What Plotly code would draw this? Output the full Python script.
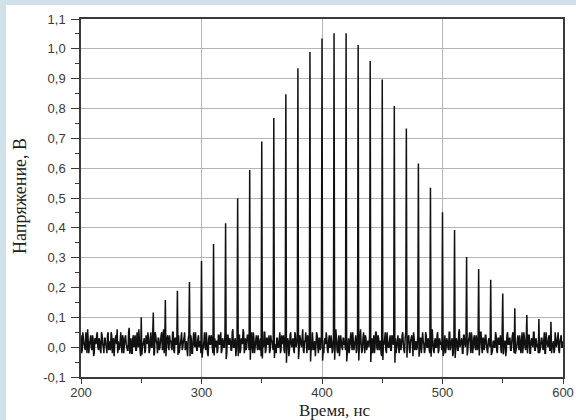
import plotly.graph_objects as go

# ---- data ----
t_start = 200
t_end = 600

# baseline noise, hundredths of a volt, samples at whole ns (200..600)
noise_cV = [
    4, -1, 3, 0, 5, -2, 2, 1, 4, -1, 3, -2, 2, 4, 0, 3, -1, 5, 1, -2,
    3, 0, 4, -1, 2, 5, -2, 3, 1, 4, -1, 2, 0, 5, -2, 3, 1, 4, 0, -1,
    5, 1, -2, 3, 0, 4, -1, 2, 6, -1, 3, 0, 2, -2, 4, 1, 3, -1, 5, 0,
    2, -2, 4, 1, 3, -1, 2, 5, 0, -2, 3, 1, 4, -1, 2, 0, 5, -1, 3, 1,
    -2, 4, 0, 3, -1, 2, 5, 1, -1, 3, 0, 4, -2, 2, 1, 5, -1, 3, 0, 2,
    4, -1, 2, 0, 5, -2, 3, 1, 4, 0, -1, 3, 2, -2, 4, 1, 5, -1, 2, 0,
    3, -2, 4, 1, 2, -1, 6, 0, 3, -1, 2, 4, -2, 3, 1, 5, 0, -1, 4, 2,
    -1, 3, 0, 5, -2, 2, 1, 4, -1, 3, 0, 2, 5, -2, 3, 1, 4, -1, 2, 0,
    4, 1, -2, 3, 0, 5, -1, 2, 4, -2, 3, 1, 2, -1, 5, 0, 3, -2, 4, 1,
    2, -1, 3, 0, 6, -2, 2, 1, 4, -1, 3, 0, 5, -1, 2, 1, 4, -2, 3, 0,
    5, -1, 2, 1, 3, -2, 4, 0, 2, -1, 5, 1, 3, -2, 4, 0, 2, -1, 3, 1,
    4, -2, 3, 0, 5, -1, 2, 1, 4, -1, 2, 0, 6, -2, 3, 1, 4, -1, 2, 0,
    3, 1, -2, 4, 0, 5, -1, 3, 2, -2, 4, 1, 3, -1, 5, 0, 2, -1, 4, 1,
    -1, 3, 0, 4, -2, 2, 1, 5, -1, 3, 0, 2, 4, -2, 3, 1, 5, -1, 2, 0,
    4, -1, 3, 1, 2, -2, 5, 0, 3, -1, 4, 1, 2, -2, 3, 0, 5, -1, 2, 1,
    3, -2, 4, 0, 2, -1, 5, 1, 3, -2, 4, 0, 2, -1, 6, 1, 3, -2, 4, 0,
    2, -1, 3, 1, 5, -2, 3, 0, 4, -1, 2, 1, 5, -2, 3, 0, 4, -1, 2, 1,
    4, -2, 2, 0, 5, -1, 3, 1, 4, -2, 3, 0, 2, -1, 5, 1, 3, -1, 4, 0,
    3, -1, 2, 1, 4, -2, 5, 0, 3, -1, 2, 1, 4, -2, 3, 0, 5, -1, 2, 1,
    4, -1, 3, 0, 2, -2, 5, 1, 3, -1, 4, 0, 2, -1, 3, 1, 5, -2, 3, 0,
    2,
]

# baseline noise, hundredths of a volt, samples at half ns (200.5..599.5)
noise_half_cV = [
    -2, 5, 1, -1, 3, 6, -2, 2, 0, 4, -3, 3, 1, 5, -1, 2, -2, 4, 0, 3,
    1, -2, 5, 0, -1, 4, 2, -3, 3, 1, 5, -1, 2, 0, 4, -2, 3, 1, -1, 5,
    0, 3, -2, 4, 1, -1, 5, 0, 2, -3, 4, 1, 3, -1, 2, 5, -2, 3, 0, 4,
    -1, 5, 2, -2, 3, 0, 4, -1, 6, 1, -2, 3, 0, 4, 2, -1, 5, -2, 3, 1,
    4, -2, 1, 5, 0, 3, -1, 2, -3, 4, 1, 3, -2, 5, 0, 2, -1, 4, 1, -2,
    3, 0, 5, -1, 2, -3, 4, 1, 3, -2, 5, 0, 2, -1, 4, 1, -2, 3, 0, 5,
    -2, 4, 1, 3, -1, 5, 0, 2, -3, 3, 1, 4, -1, 2, 6, -2, 3, 0, 4, -1,
    2, 5, -2, 3, 0, 4, -1, 2, 1, -3, 4, 0, 5, -1, 3, 1, -2, 4, 2, -1,
    5, -1, 3, 0, 2, -2, 4, 1, -1, 5, 0, 3, -3, 4, 1, 2, -1, 5, 0, 3,
    -2, 4, 1, 3, -1, 2, 5, -2, 3, 0, 4, -1, 2, 1, -3, 5, 0, 3, -1, 4,
    1, -2, 3, 5, -1, 2, 0, 4, -2, 3, 1, 6, -1, 2, -3, 4, 0, 3, 1, -1,
    4, 0, -2, 3, 1, 5, -1, 2, -2, 4, 0, 3, 1, -1, 5, -2, 3, 0, 2, 4,
    -1, 3, 1, -2, 5, 0, 4, -1, 2, -3, 3, 1, 5, -2, 2, 0, 4, -1, 3, 1,
    5, -2, 2, 0, 3, -1, 4, 1, -2, 5, 0, 3, -1, 2, 4, -3, 3, 1, -1, 4,
    0, 3, -2, 5, 1, -1, 4, 0, 2, -2, 3, 6, -1, 2, 0, 4, -2, 3, 1, -1,
    4, 1, -2, 3, 0, 5, -1, 2, -3, 4, 1, 3, -1, 5, 0, 2, -2, 4, 1, 3,
    -1, 2, 5, -2, 3, 0, 4, -1, 2, 1, -3, 5, 0, 3, -1, 4, 1, -2, 3, 0,
    5, -1, 2, 0, 4, -2, 3, 1, -1, 5, 0, 2, -3, 4, 1, 3, -1, 2, 5, -2,
    3, 0, 4, -1, 2, 1, -2, 5, 0, 3, -1, 4, -2, 2, 1, 5, -1, 3, 0, -2,
    4, 1, 3, -1, 5, -2, 2, 0, 4, -1, 3, 1, -2, 5, 0, 3, -1, 2, 4, 0,
]

pulse_times = [230, 240, 250, 260, 270, 280, 290, 300, 310, 320, 330, 340,
               350, 360, 370, 380, 390, 400, 410, 420, 430, 440, 450, 460,
               470, 480, 490, 500, 510, 520, 530, 540, 550, 560, 570, 580, 590]
pulse_peaks = [0.060, 0.065, 0.100, 0.116, 0.158, 0.189, 0.218, 0.289, 0.346,
               0.415, 0.499, 0.594, 0.689, 0.768, 0.848, 0.935, 0.989, 1.035,
               1.052, 1.052, 1.013, 0.959, 0.897, 0.808, 0.733, 0.616, 0.534,
               0.452, 0.393, 0.302, 0.262, 0.226, 0.180, 0.130, 0.108, 0.094,
               0.085]
pulse_dips = [-0.020, -0.022, -0.025, -0.028, -0.030, -0.026, -0.030, -0.035,
              -0.028, -0.040, -0.030, -0.042, -0.038, -0.036, -0.052, -0.040,
              -0.048, -0.045, -0.042, -0.048, -0.045, -0.050, -0.043, -0.052,
              -0.035, -0.032, -0.032, -0.030, -0.036, -0.028, -0.028, -0.026,
              -0.024, -0.022, -0.020, -0.020, -0.020]

y_tick_vals = [-0.1, 0.0, 0.1, 0.2, 0.3, 0.4, 0.5, 0.6, 0.7, 0.8, 0.9, 1.0, 1.1]
y_tick_text = ["-0,1", "0,0", "0,1", "0,2", "0,3", "0,4", "0,5", "0,6",
               "0,7", "0,8", "0,9", "1,0", "1,1"]
x_tick_vals = [200, 300, 400, 500, 600]
x_tick_text = ["200", "300", "400", "500", "600"]

x_title = "Время, нс"
y_title = "Напряжение, В"

# ---- build signal (interleave whole-ns and half-ns samples) ----
times, volts = [], []
for k, v in enumerate(noise_cV):
    times.append(t_start + k)
    volts.append(v / 100.0)
    if k < len(noise_half_cV):
        times.append(t_start + k + 0.5)
        volts.append(noise_half_cV[k] / 100.0)
for tp, pk, dp in zip(pulse_times, pulse_peaks, pulse_dips):
    i = times.index(tp)
    volts[i] = pk
    volts[i + 1] = dp

fig = go.Figure()
fig.add_trace(go.Scatter(x=times, y=volts, mode="lines",
                         line=dict(color="#111111", width=1.5, simplify=False),
                         hoverinfo="skip", showlegend=False))

W, H = 576, 420
ml, mr, mt, mb = 81, 13, 19, 43
pw, ph = W - ml - mr, H - mt - mb

blue = "#d0e1ea"
fig.add_shape(type="rect", xref="paper", yref="paper",
              x0=-ml / pw, x1=(6 - ml) / pw, y0=-mb / ph, y1=1 + mt / ph,
              fillcolor=blue, line_width=0, layer="below")
fig.add_shape(type="rect", xref="paper", yref="paper",
              x0=-ml / pw, x1=1 + mr / pw, y0=1 + (mt - 5) / ph, y1=1 + mt / ph,
              fillcolor=blue, line_width=0, layer="below")

axis_line = "#3a3a3a"
grid = "#b4b4b4"
tick_font = dict(family="Liberation Sans, Arial, sans-serif", size=13, color="#3a3a3a")
title_font = dict(family="Liberation Serif, Times New Roman, serif", size=17, color="#222222")

fig.add_annotation(text=x_title, xref="paper", yref="paper",
                   x=(335 - ml) / pw, y=-(410 - (H - mb)) / ph,
                   xanchor="center", yanchor="middle", showarrow=False,
                   font=title_font)
fig.add_annotation(text=y_title, xref="paper", yref="paper",
                   x=(20 - ml) / pw, y=1 - (196 - mt) / ph,
                   xanchor="center", yanchor="middle", showarrow=False,
                   textangle=-90, font=dict(title_font, size=18))

fig.update_layout(
    width=W, height=H,
    margin=dict(l=ml, r=mr, t=mt, b=mb, autoexpand=False),
    paper_bgcolor="white",
    plot_bgcolor="white",
    showlegend=False,
)
fig.update_xaxes(
    range=[t_start, t_end], automargin=False,
    tickmode="array", tickvals=x_tick_vals, ticktext=x_tick_text,
    ticks="outside", ticklen=5, tickwidth=1, tickcolor=axis_line,
    minor=dict(ticks="outside", ticklen=4, tickcolor=axis_line, dtick=50, tick0=200, showgrid=False),
    showline=True, linecolor=axis_line, linewidth=1.5, mirror=True,
    showgrid=True, gridcolor=grid, gridwidth=1,
    zeroline=False,
    tickfont=tick_font,
    ticklabelstandoff=-2,
)
fig.update_yaxes(
    range=[-0.1, 1.1], automargin=False,
    tickmode="array", tickvals=y_tick_vals, ticktext=y_tick_text,
    ticks="outside", ticklen=8, tickwidth=1, tickcolor=axis_line,
    minor=dict(ticks="outside", ticklen=4, tickcolor=axis_line, dtick=0.05, tick0=0, showgrid=False),
    showline=True, linecolor=axis_line, linewidth=1.5, mirror=True,
    showgrid=True, gridcolor=grid, gridwidth=1,
    zeroline=False,
    tickfont=tick_font,
    ticklabelstandoff=3,
)

fig.write_html("out.html", config={"displayModeBar": False},
               post_script="document.body.style.margin='0';document.body.style.padding='0';")
